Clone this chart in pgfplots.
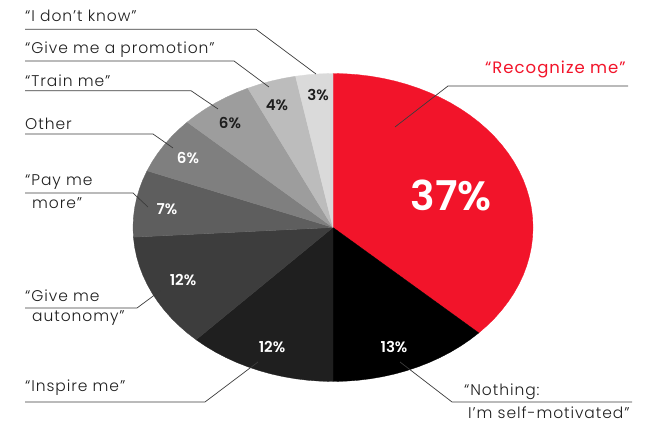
\documentclass[border=0pt]{standalone}
\usepackage{pgfplots}
\pgfplotsset{compat=1.18}
\usepackage{fontspec}
\setmainfont{Poppins}[UprightFont=* Light, BoldFont=* SemiBold]
\newfontfamily\medfont{Poppins}
\definecolor{cRed}{RGB}{242,20,42}
\definecolor{cNothing}{RGB}{0,0,0}
\definecolor{cInspire}{RGB}{31,31,31}
\definecolor{cAuto}{RGB}{61,61,61}
\definecolor{cPay}{RGB}{94,94,94}
\definecolor{cOther}{RGB}{127,127,127}
\definecolor{cTrain}{RGB}{157,157,157}
\definecolor{cPromo}{RGB}{188,188,188}
\definecolor{cIDK}{RGB}{218,218,218}
\definecolor{cLine}{RGB}{60,60,60}
\definecolor{cText}{RGB}{30,30,30}
\newcommand{\lab}{\fontsize{15.5}{18}\selectfont\addfontfeatures{LetterSpace=6}}
\newcommand{\pct}{\fontsize{15}{18}\selectfont\bfseries}
\begin{document}
\begin{tikzpicture}[x=1pt,y=1pt]
\useasboundingbox (0,0) rectangle (654,423);
\begin{axis}[at={(0,0)}, anchor=south west, scale only axis,
  width=654pt, height=423pt,
  xmin=-1.665, xmax=1.605, ymin=-1.2695, ymax=1.4773,
  hide axis, clip=false]
% Recognize me 37%
\addplot[fill=cRed, draw=cRed, line width=0.3pt, data cs=polar] table[row sep=\\, x expr={90-3.6*\thisrow{p}}, y=r] {
p r\\ 0 0\\ 0 1\\ 1 1\\ 2 1\\ 3 1\\ 4 1\\ 5 1\\ 6 1\\ 7 1\\ 8 1\\ 9 1\\ 10 1\\ 11 1\\ 12 1\\ 13 1\\ 14 1\\ 15 1\\ 16 1\\ 17 1\\ 18 1\\ 19 1\\ 20 1\\ 21 1\\ 22 1\\ 23 1\\ 24 1\\ 25 1\\ 26 1\\ 27 1\\ 28 1\\ 29 1\\ 30 1\\ 31 1\\ 32 1\\ 33 1\\ 34 1\\ 35 1\\ 36 1\\ 37 1\\ 37 0\\
};
% Nothing 13%
\addplot[fill=cNothing, draw=cNothing, line width=0.3pt, data cs=polar] table[row sep=\\, x expr={90-3.6*\thisrow{p}}, y=r] {
p r\\ 37 0\\ 37 1\\ 38 1\\ 39 1\\ 40 1\\ 41 1\\ 42 1\\ 43 1\\ 44 1\\ 45 1\\ 46 1\\ 47 1\\ 48 1\\ 49 1\\ 50 1\\ 50 0\\
};
% Inspire 12%
\addplot[fill=cInspire, draw=cInspire, line width=0.3pt, data cs=polar] table[row sep=\\, x expr={90-3.6*\thisrow{p}}, y=r] {
p r\\ 50 0\\ 50 1\\ 51 1\\ 52 1\\ 53 1\\ 54 1\\ 55 1\\ 56 1\\ 57 1\\ 58 1\\ 59 1\\ 60 1\\ 61 1\\ 62 1\\ 62 0\\
};
% Autonomy 12%
\addplot[fill=cAuto, draw=cAuto, line width=0.3pt, data cs=polar] table[row sep=\\, x expr={90-3.6*\thisrow{p}}, y=r] {
p r\\ 62 0\\ 62 1\\ 63 1\\ 64 1\\ 65 1\\ 66 1\\ 67 1\\ 68 1\\ 69 1\\ 70 1\\ 71 1\\ 72 1\\ 73 1\\ 74 1\\ 74 0\\
};
% Pay me more 7%
\addplot[fill=cPay, draw=cPay, line width=0.3pt, data cs=polar] table[row sep=\\, x expr={90-3.6*\thisrow{p}}, y=r] {
p r\\ 74 0\\ 74 1\\ 75 1\\ 76 1\\ 77 1\\ 78 1\\ 79 1\\ 80 1\\ 81 1\\ 81 0\\
};
% Other 6%
\addplot[fill=cOther, draw=cOther, line width=0.3pt, data cs=polar] table[row sep=\\, x expr={90-3.6*\thisrow{p}}, y=r] {
p r\\ 81 0\\ 81 1\\ 82 1\\ 83 1\\ 84 1\\ 85 1\\ 86 1\\ 87 1\\ 87 0\\
};
% Train me 6%
\addplot[fill=cTrain, draw=cTrain, line width=0.3pt, data cs=polar] table[row sep=\\, x expr={90-3.6*\thisrow{p}}, y=r] {
p r\\ 87 0\\ 87 1\\ 88 1\\ 89 1\\ 90 1\\ 91 1\\ 92 1\\ 93 1\\ 93 0\\
};
% Promotion 4%
\addplot[fill=cPromo, draw=cPromo, line width=0.3pt, data cs=polar] table[row sep=\\, x expr={90-3.6*\thisrow{p}}, y=r] {
p r\\ 93 0\\ 93 1\\ 94 1\\ 95 1\\ 96 1\\ 97 1\\ 97 0\\
};
% I don't know 3%
\addplot[fill=cIDK, draw=cIDK, line width=0.3pt, data cs=polar] table[row sep=\\, x expr={90-3.6*\thisrow{p}}, y=r] {
p r\\ 97 0\\ 97 1\\ 98 1\\ 99 1\\ 100 1\\ 100 0\\
};
\end{axis}
\begin{scope}[shift={(0,423)}, yscale=-1]
% leader lines
\draw[cLine, line width=0.7pt] (25,29.3) -- (256,29.3) -- (316,74);
\draw[cLine, line width=0.7pt] (25,61) -- (234,61) -- (269,87);
\draw[cLine, line width=0.7pt] (25,90.7) -- (191,90.7) -- (218,109);
\draw[cLine, line width=0.7pt] (25,134) -- (153,134) -- (173,148);
\draw[cLine, line width=0.7pt] (25,193) -- (133,193) -- (148,207);
\draw[cLine, line width=0.7pt] (25,308) -- (137,308) -- (160,291);
\draw[cLine, line width=0.7pt] (25,402) -- (205,402) -- (258,362);
\draw[cLine, line width=0.7pt] (628,86) -- (448,86) -- (395,127);
\draw[cLine, line width=0.7pt] (632,402) -- (452,402) -- (400,362);
% category labels
\node[anchor=west, inner sep=0pt, text=cText, font=\lab] at (25,16) {“I don’t know”};
\node[anchor=west, inner sep=0pt, text=cText, font=\lab] at (25,50) {“Give me a promotion”};
\node[anchor=west, inner sep=0pt, text=cText, font=\lab] at (25,81) {“Train me”};
\node[anchor=west, inner sep=0pt, text=cText, font=\lab] at (25,124) {Other};
\node[anchor=west, inner sep=0pt, text=cText, font=\lab] at (25,182) {“Pay me};
\node[anchor=west, inner sep=0pt, text=cText, font=\lab] at (32,203) {more”};
\node[anchor=west, inner sep=0pt, text=cText, font=\lab] at (25,296) {“Give me};
\node[anchor=west, inner sep=0pt, text=cText, font=\lab] at (32,318) {autonomy”};
\node[anchor=west, inner sep=0pt, text=cText, font=\lab] at (25,388) {“Inspire me”};
\node[anchor=west, inner sep=0pt, text=cRed, font={\fontsize{16.5}{19}\selectfont\medfont\addfontfeatures{LetterSpace=6}}] at (485,69) {“Recognize me”};
\node[anchor=west, inner sep=0pt, text=cText, font=\lab] at (464,392) {“Nothing:};
\node[anchor=west, inner sep=0pt, text=cText, font=\lab] at (468,413) {I’m self-motivated”};
% percentages
\node[text=white, font=\fontsize{41}{45}\selectfont\bfseries] at (451,195) {37\%};
\node[text=white, font=\pct] at (394,347) {13\%};
\node[text=white, font=\pct] at (272,347) {12\%};
\node[text=white, font=\pct] at (183,280) {12\%};
\node[text=white, font=\pct] at (167,209) {7\%};
\node[text=white, font=\pct] at (188,158) {6\%};
\node[text=cText, font=\pct] at (230,123) {6\%};
\node[text=cText, font=\pct] at (277,105) {4\%};
\node[text=cText, font=\pct] at (318,95) {3\%};
\end{scope}
\end{tikzpicture}
\end{document}
